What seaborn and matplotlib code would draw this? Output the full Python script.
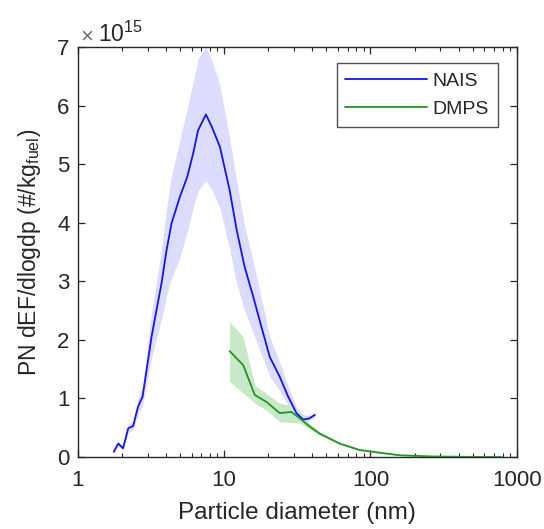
import numpy as np
import pandas as pd
import matplotlib
matplotlib.use("Agg")
import matplotlib.pyplot as plt
import seaborn as sns
from matplotlib.ticker import LogLocator, NullFormatter

# NAIS (values in units of 1e15 #/kg_fuel)
nais_dp = [1.76, 1.89, 2.04, 2.21, 2.39, 2.58, 2.77, 2.95, 3.19, 3.45, 3.73, 4.04, 4.37, 4.98, 5.59, 6.14, 6.64, 7.51,
           8.3, 9.35, 10.9, 12.2, 13.8, 15.8, 18.0, 20.5, 24.0, 27.4, 31.2, 34.7, 38.2, 41.7]
nais_val = [0.09, 0.23, 0.15, 0.49, 0.53, 0.86, 1.03, 1.48, 2.05, 2.51, 2.96, 3.53, 3.99, 4.44, 4.78, 5.18, 5.58, 5.85,
            5.62, 5.30, 4.56, 3.87, 3.25, 2.74, 2.22, 1.71, 1.37, 1.03, 0.75, 0.64, 0.66, 0.72]
nais_lo = [0.07, 0.19, 0.12, 0.42, 0.46, 0.74, 0.88, 1.25, 1.68, 2.02, 2.35, 2.75, 3.05, 3.40, 3.85, 4.25, 4.55, 4.72,
           4.55, 4.25, 3.55, 2.95, 2.50, 2.12, 1.75, 1.38, 1.13, 0.88, 0.66, 0.58, 0.62, 0.68]
nais_hi = [0.11, 0.27, 0.18, 0.56, 0.61, 1.00, 1.20, 1.75, 2.45, 3.00, 3.55, 4.25, 4.80, 5.41, 5.95, 6.40, 6.80, 7.00,
           6.75, 6.35, 5.45, 4.70, 3.95, 3.35, 2.70, 2.05, 1.62, 1.20, 0.86, 0.72, 0.71, 0.76]

# DMPS
dmps_dp = [10.9, 13.5, 16.2, 19.5, 24.0, 28.8, 32.9, 38.5, 45.0, 61.7, 84.6, 104, 159, 268, 450, 787]
dmps_val = [1.81, 1.57, 1.06, 0.94, 0.75, 0.77, 0.66, 0.52, 0.40, 0.23, 0.12, 0.09, 0.03, 0.01, 0.004, 0.0]
dmps_lo = [1.29, 1.09, 0.92, 0.80, 0.60, 0.59, 0.58, 0.47, 0.37, 0.21, 0.11, 0.08, 0.025, 0.008, 0.002, 0.0]
dmps_hi = [2.31, 2.05, 1.23, 1.08, 0.92, 0.88, 0.74, 0.57, 0.43, 0.25, 0.13, 0.10, 0.035, 0.012, 0.006, 0.0]

sns.set_style("ticks", {"xtick.direction": "in", "ytick.direction": "in"})
plt.rcParams['font.family'] = ['Liberation Sans', 'DejaVu Sans']
plt.rcParams['mathtext.fontset'] = 'custom'
plt.rcParams['mathtext.rm'] = 'Liberation Sans'

fig = plt.figure(figsize=(5.44, 5.29), dpi=100)
ax = fig.add_axes([0.143, 0.136, 0.807, 0.775])

nais = pd.DataFrame({"dp": nais_dp, "val": nais_val})
dmps = pd.DataFrame({"dp": dmps_dp, "val": dmps_val})

ax.fill_between(nais_dp, nais_lo, nais_hi, color="#dcdcfe", lw=0, zorder=1)
ax.fill_between(dmps_dp, dmps_lo, dmps_hi, color="#c8e8c8", lw=0, zorder=1)
sns.lineplot(data=nais, x="dp", y="val", ax=ax, color="#1414f0", lw=1.3, label="NAIS", zorder=3)
sns.lineplot(data=dmps, x="dp", y="val", ax=ax, color="#1f961f", lw=1.3, label="DMPS", zorder=3)

ax.set_xscale("log")
ax.set_xlim(1, 1000)
ax.set_ylim(0, 7)
ax.set_yticks(range(0, 8))
ax.set_xticks([1, 10, 100, 1000])
ax.set_xticklabels(["1", "10", "100", "1000"])
ax.xaxis.set_minor_locator(LogLocator(base=10, subs=np.arange(2, 10), numticks=20))
ax.xaxis.set_minor_formatter(NullFormatter())

ax.tick_params(axis="both", which="both", direction="in", top=True, right=True, bottom=True, left=True,
               labelsize=16, labelcolor="#262626", color="#262626", length=5, width=0.9)
ax.tick_params(axis="x", which="minor", length=3, width=0.8)
ax.tick_params(axis="x", which="major", pad=9)
ax.tick_params(axis="y", which="major", pad=6)
for s in ax.spines.values():
    s.set_visible(True)
    s.set_color("#262626")
    s.set_linewidth(1.0)

ax.set_xlabel("Particle diameter (nm)", fontsize=17.5, color="#262626", labelpad=8)
ax.set_ylabel(r"PN dEF/dlogdp (#/kg$_{\mathrm{fuel}}$)", fontsize=16.5, color="#262626", labelpad=10)

ax.text(0.005, 1.0, "\u00d7", transform=ax.transAxes,
        fontsize=16, color="#707070", ha="left", va="bottom")
ax.text(0.045, 1.0, r"10$^{\mathrm{15}}$", transform=ax.transAxes,
        fontsize=16.5, color="#262626", ha="left", va="bottom")

leg = ax.legend(loc="upper right", bbox_to_anchor=(0.957, 0.96), fontsize=14, frameon=True,
                fancybox=False, edgecolor="#262626", handlelength=4.2, borderpad=0.45,
                labelspacing=0.55, handletextpad=0.3, borderaxespad=0.0)
leg.get_frame().set_linewidth(1.0)

fig.savefig("out.png", dpi=100)
